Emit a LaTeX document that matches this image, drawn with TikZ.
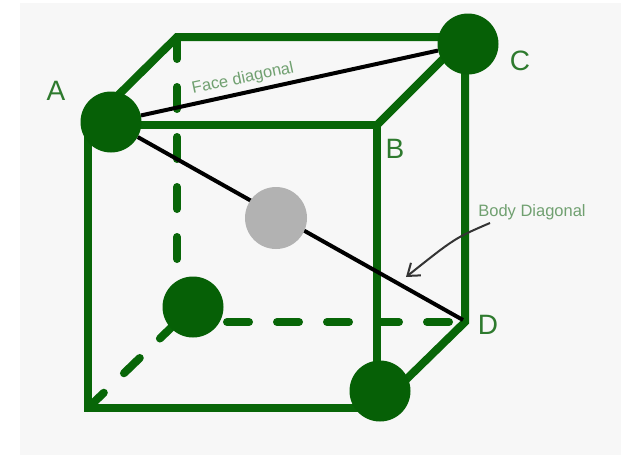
\documentclass[tikz,border=0pt]{standalone}
\usepackage{fontspec}
\setmainfont{Liberation Sans}
\usetikzlibrary{arrows.meta}
\definecolor{edgegreen}{RGB}{8,102,8}
\definecolor{ballgreen}{RGB}{6,96,6}
\definecolor{labelgreen}{RGB}{46,122,46}
\definecolor{notegreen}{RGB}{112,160,112}
\definecolor{atomgray}{RGB}{178,178,178}
\definecolor{paper}{RGB}{247,247,247}
\definecolor{pointer}{RGB}{52,52,52}
\begin{document}
\begin{tikzpicture}[x=1pt,y=-1pt,
  edge/.style={draw=edgegreen,line width=8pt,line join=miter},
  hidden/.style={draw=edgegreen,line width=8pt,line cap=round,dash pattern=on 22pt off 28pt},
  atom/.style={circle,fill=ballgreen,minimum size=61pt,inner sep=0pt},
  centeratom/.style={circle,fill=atomgray,minimum size=62pt,inner sep=0pt},
  diag/.style={draw=black,line width=4pt},
  corner/.style={text=labelgreen,font=\fontsize{28}{30}\selectfont,inner sep=0pt},
  note/.style={text=notegreen,font=\fontsize{16.5}{18}\selectfont,inner sep=0pt},
  pointerline/.style={draw=pointer,line width=2pt,-{Straight Barb[length=11pt,width=16pt,line width=2pt]}}]
  \useasboundingbox (0,0) rectangle (621,455);
  \fill[paper] (20,3) rectangle (621,455);

  % cube corners: front face p*, back face q*
  \coordinate (p1) at (88,125);
  \coordinate (p2) at (377,125);
  \coordinate (p3) at (377,408);
  \coordinate (p4) at (88,408);
  \coordinate (q1) at (177,37);
  \coordinate (q2) at (465,37);
  \coordinate (q3) at (465,322);
  \coordinate (q4) at (177,322);

  % hidden edges
  \draw[hidden] (q1) -- (q4);
  \draw[hidden] (q4) -- (q3);
  \draw[hidden] (p4) -- (q4);

  % visible edges
  \draw[edge] (p4) -- (p1) -- (p2) -- (p3) -- cycle;
  \draw[edge] (p1) -- (q1) -- (q2) -- (q3) -- (p3);
  \draw[edge] (p2) -- (q2);

  % atoms
  \node[atom] (A) at (111,122) {};
  \node[atom] (C) at (468,44) {};
  \node[atom] (E) at (193,307) {};
  \node[atom] (F) at (380,391) {};
  \coordinate (D) at (463,320);

  % diagonals
  \draw[diag] (A) -- (C);
  \draw[diag] (A) -- (D);
  \node[centeratom] (G) at (276,218) {};

  % corner labels
  \node[corner] (la) at (56,91) {A};
  \node[corner] (lb) at (395,149) {B};
  \node[corner] (lc) at (520,61) {C};
  \node[corner] (ld) at (488,325) {D};

  % annotations
  \node[note,rotate=12] (fd) at (243,79) {Face diagonal};
  \node[note] (bd) at (532,212) {Body Diagonal};
  \coordinate (bdfrom) at (490,223);
  \coordinate (bdto) at (406,277);
  \draw[pointerline] (bdfrom) .. controls (455,238) .. (bdto);
\end{tikzpicture}
\end{document}
